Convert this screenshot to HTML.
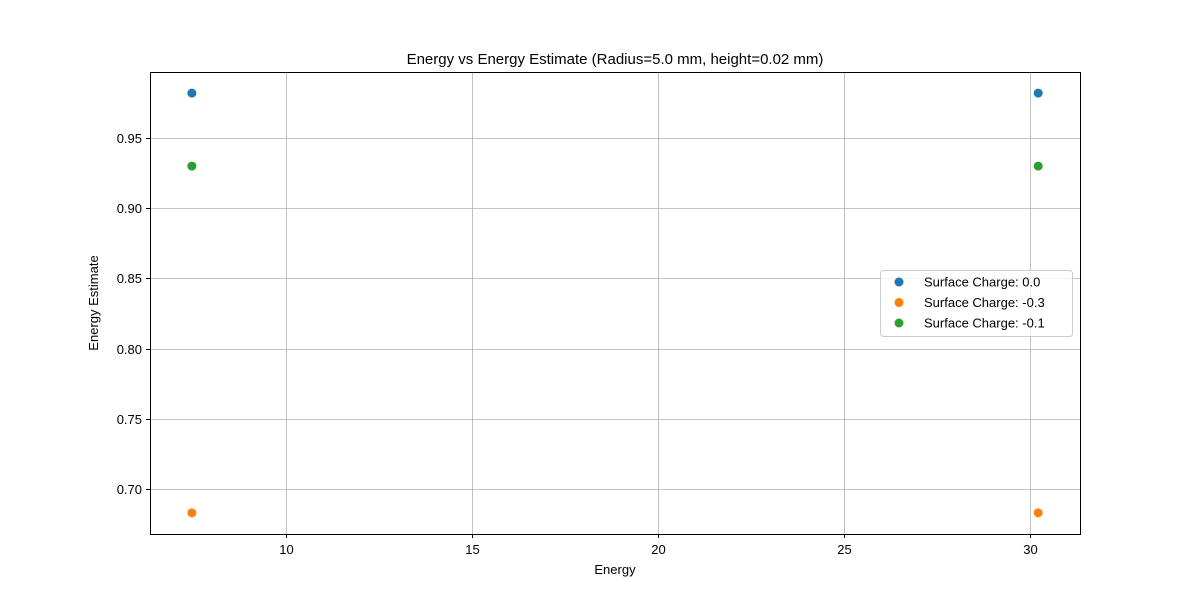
<!DOCTYPE html>
<html><head><meta charset="utf-8">
<style>
body{margin:0;background:#fff;}
svg{display:block;font-family:"Liberation Sans","DejaVu Sans",sans-serif;}
</style></head>
<body>
<svg id="chart" width="1200" height="600">
<rect width="1200" height="600" fill="#fff"/>
<g id="grid"></g>
<g id="xticks"></g>
<g id="yticks"></g>
<g id="points"></g>
<rect x="150.5" y="72.5" width="930" height="462" fill="none" stroke="#000" stroke-width="1"/>
<text x="615" y="64" text-anchor="middle" font-size="15">Energy vs Energy Estimate (Radius=5.0 mm, height=0.02 mm)</text>
<text x="615" y="574" text-anchor="middle" font-size="13">Energy</text>
<text x="98" y="303" text-anchor="middle" font-size="13" transform="rotate(-90 98 303)">Energy Estimate</text>
<g id="legend"></g>
</svg>
<script>
const xTicks=[10,15,20,25,30];
const yTicks=[0.70,0.75,0.80,0.85,0.90,0.95];
const seriesNames=["Surface Charge: 0.0","Surface Charge: -0.3","Surface Charge: -0.1"];
const energies=[7.47,30.22];
const est0=[0.982,0.982];
const est1=[0.683,0.683];
const est2=[0.930,0.930];
const colors=["#1f77b4","#ff7f0e","#2ca02c"];
const ns="http://www.w3.org/2000/svg";
function X(v){return 286+(v-10)*37.2;}
function Y(v){return 489-(v-0.70)*1404;}
function mk(t,a,p){const e=document.createElementNS(ns,t);for(const k in a)e.setAttribute(k,a[k]);p.appendChild(e);return e;}
const grid=document.getElementById('grid'),xt=document.getElementById('xticks'),yt=document.getElementById('yticks');
xTicks.forEach(v=>{const x=Math.round(X(v))+0.5;
 const g=mk('line',{x1:x,x2:x,y1:72,y2:534,stroke:'#b0b0b0','stroke-width':0.8},grid);
 
 
 mk('line',{x1:x,x2:x,y1:534,y2:538,stroke:'#000'},xt);
 const t=mk('text',{x:x,y:554,'text-anchor':'middle','font-size':13},xt);t.textContent=v;
 
 
});
yTicks.forEach(v=>{const y=Math.round(Y(v))+0.5;
 const g=mk('line',{x1:150,x2:1080,y1:y,y2:y,stroke:'#b0b0b0','stroke-width':0.8},grid);
 
 
 mk('line',{x1:146,x2:150,y1:y,y2:y,stroke:'#000'},yt);
 const t=mk('text',{x:142,y:y+4.5,'text-anchor':'end','font-size':13},yt);t.textContent=v.toFixed(2);
 
 
});
const pts=document.getElementById('points');
[est0,est1,est2].forEach((s,i)=>{s.forEach((v,j)=>{
 const c=mk('circle',{cx:X(energies[j]),cy:Y(v),r:4.5,fill:colors[i]},pts);
 
 
});});
const lg=document.getElementById('legend');
mk('rect',{x:880.5,y:270.5,width:192,height:66,rx:3,fill:'#fff','fill-opacity':0.8,stroke:'#ccc'},lg);
seriesNames.forEach((n,i)=>{const y=282+i*20.5;
 const c=mk('circle',{cx:899,cy:y,r:4.5,fill:colors[i]},lg);
 
 
 const t=mk('text',{x:924,y:y+4.5,'font-size':13},lg);t.textContent=n;
 
 
});
</script>
</body></html>
